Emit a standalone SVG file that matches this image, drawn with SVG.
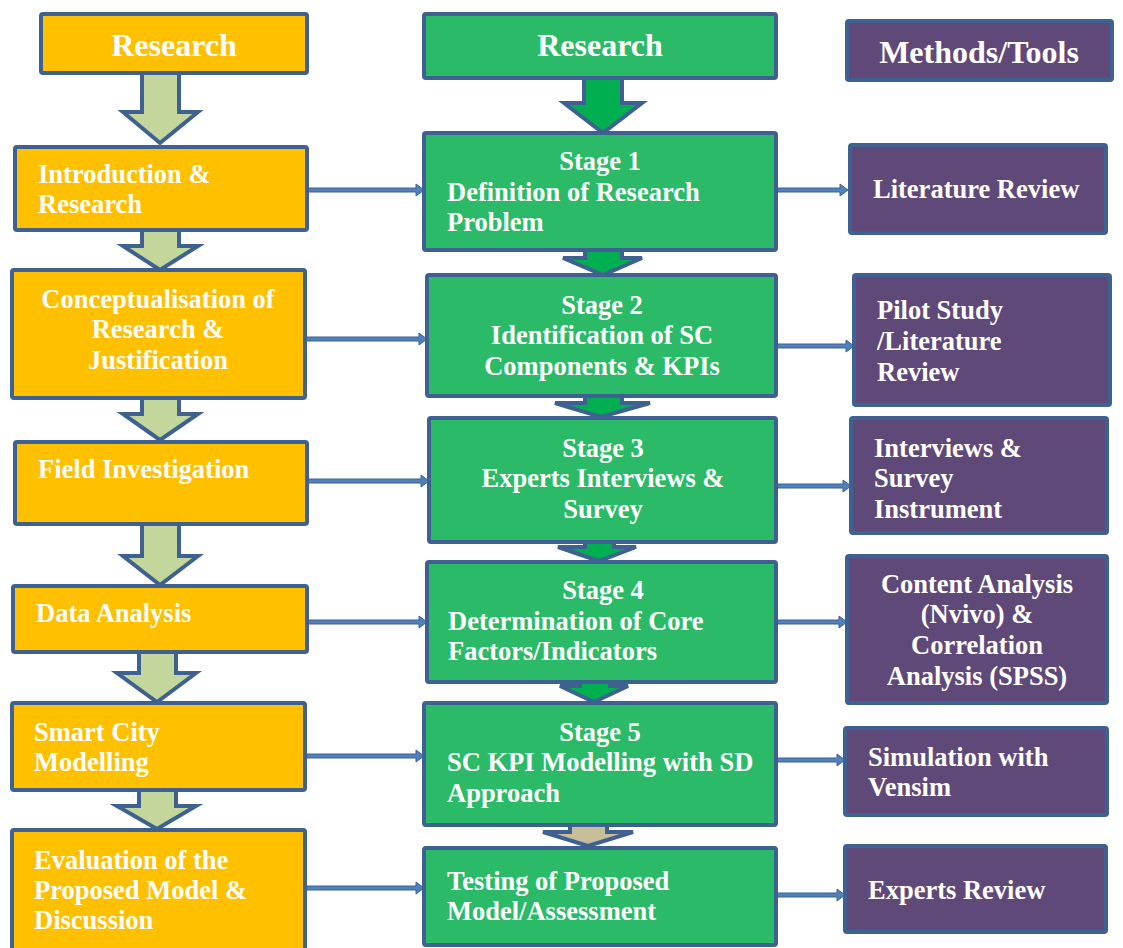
<svg xmlns="http://www.w3.org/2000/svg" width="1123" height="948" viewBox="0 0 1123 948">
  <style>
    .box { stroke: #3E6192; stroke-width: 4; }
    .orange { fill: #FFC000; }
    .green { fill: #2BBB68; }
    .purple { fill: #5F4979; }
    .t { font-family: "Liberation Serif", "Times New Roman", serif; font-weight: bold; fill: #FFFFFF; font-size: 26.5px; }
    .h { font-size: 32px; }
    .c { text-anchor: middle; }
    .blk { stroke: #3E6192; stroke-width: 4; stroke-linejoin: miter; }
    .lg { fill: #C3D69B; }
    .dg { fill: #00B050; }
    .tan { fill: #C8BF98; }
    .conn { fill: #4F81BD; stroke: #3E6192; stroke-width: 1; }
  </style>

  <!-- block arrows (drawn first so boxes overlap their ends) -->
  <g id="flow-arrows">
    <!-- left column -->
    <path class="blk lg" d="M142,73 H179 V112 H198 L160,143 L123,112 H142 Z"/>
    <path class="blk lg" d="M142,230 H179 V246 H198 L160,270 L123,246 H142 Z"/>
    <path class="blk lg" d="M142,398 H179 V414 H198 L160,440 L123,414 H142 Z"/>
    <path class="blk lg" d="M142,524 H179 V556 H198 L160,585 L123,556 H142 Z"/>
    <path class="blk lg" d="M139,652 H176 V673 H196 L157,702 L117,673 H139 Z"/>
    <path class="blk lg" d="M139,790 H176 V806 H196 L157,829 L117,806 H139 Z"/>
    <!-- middle column -->
    <path class="blk dg" d="M584,78 H622 V103 H642 L603,133 L564,103 H584 Z"/>
    <path class="blk dg" d="M585,250 H622 V258 H642 L603,275 L563,258 H585 Z"/>
    <path class="blk dg" d="M585,396 H622 V403 H650 L601,417 L555,403 H585 Z"/>
    <path class="blk dg" d="M585,542 H614 V547 H636 L599,561 L558,547 H585 Z"/>
    <path class="blk dg" d="M580,682 H610 V686 H628 L594,702 L560,686 H580 Z"/>
    <path class="blk tan" d="M570,823 H607 V832 H633 L588,846 L543,832 H570 Z"/>
  </g>

  <!-- horizontal connectors -->
  <g id="connectors">
    <path class="conn" d="M307,188 H416 V184 L424,190 L416,196 V192 H307 Z"/>
    <path class="conn" d="M305,337 H419 V333 L427,339 L419,345 V341 H305 Z"/>
    <path class="conn" d="M307,479 H421 V475 L429,481 L421,487 V483 H307 Z"/>
    <path class="conn" d="M307,620 H419 V616 L427,622 L419,628 V624 H307 Z"/>
    <path class="conn" d="M305,754 H416 V750 L424,756 L416,762 V758 H305 Z"/>
    <path class="conn" d="M305,886 H416 V882 L424,888 L416,894 V890 H305 Z"/>

    <path class="conn" d="M776,188 H840 V184 L848,190 L840,196 V192 H776 Z"/>
    <path class="conn" d="M776,344 H846 V340 L854,346 L846,352 V348 H776 Z"/>
    <path class="conn" d="M776,484 H843 V480 L851,486 L843,492 V488 H776 Z"/>
    <path class="conn" d="M776,620 H839 V616 L847,622 L839,628 V624 H776 Z"/>
    <path class="conn" d="M776,758 H837 V754 L845,760 L837,766 V762 H776 Z"/>
    <path class="conn" d="M776,893 H837 V889 L845,895 L837,901 V897 H776 Z"/>
  </g>

  <!-- left column: research phases -->
  <g id="research-left">
    <rect class="box orange" x="41" y="14" width="266" height="59" rx="2"/>
    <text class="t h c" x="174" y="56">Research</text>
  </g>
  <g id="introduction">
    <rect class="box orange" x="15" y="147" width="292" height="83" rx="2"/>
    <text class="t" x="38" y="183">Introduction &amp;</text>
    <text class="t" x="38" y="213">Research</text>
  </g>
  <g id="conceptualisation">
    <rect class="box orange" x="12" y="270" width="293" height="128" rx="2"/>
    <text class="t c" x="158" y="308">Conceptualisation of</text>
    <text class="t c" x="158" y="338">Research &amp;</text>
    <text class="t c" x="158" y="369">Justification</text>
  </g>
  <g id="field-investigation">
    <rect class="box orange" x="15" y="442" width="292" height="82" rx="2"/>
    <text class="t" x="38" y="478">Field Investigation</text>
  </g>
  <g id="data-analysis">
    <rect class="box orange" x="13" y="586" width="294" height="66" rx="2"/>
    <text class="t" x="36" y="622">Data Analysis</text>
  </g>
  <g id="smart-city-modelling">
    <rect class="box orange" x="12" y="703" width="293" height="87" rx="2"/>
    <text class="t" x="34" y="741">Smart City</text>
    <text class="t" x="34" y="771">Modelling</text>
  </g>
  <g id="evaluation">
    <rect class="box orange" x="12" y="830" width="293" height="122" rx="2"/>
    <text class="t" x="34" y="869">Evaluation of the</text>
    <text class="t" x="34" y="899">Proposed Model &amp;</text>
    <text class="t" x="34" y="929">Discussion</text>
  </g>

  <!-- middle column: stages -->
  <g id="research-stages">
    <rect class="box green" x="424" y="14" width="352" height="64" rx="2"/>
    <text class="t h c" x="600" y="56">Research</text>
  </g>
  <g id="stage1">
    <rect class="box green" x="424" y="133" width="352" height="117" rx="2"/>
    <text class="t c" x="600" y="170">Stage 1</text>
    <text class="t" x="447" y="201">Definition of Research</text>
    <text class="t" x="447" y="231">Problem</text>
  </g>
  <g id="stage2">
    <rect class="box green" x="427" y="275" width="349" height="121" rx="2"/>
    <text class="t c" x="602" y="314">Stage 2</text>
    <text class="t c" x="602" y="344">Identification of SC</text>
    <text class="t c" x="602" y="375">Components &amp; KPIs</text>
  </g>
  <g id="stage3">
    <rect class="box green" x="429" y="418" width="347" height="124" rx="2"/>
    <text class="t c" x="603" y="457">Stage 3</text>
    <text class="t c" x="603" y="487">Experts Interviews &amp;</text>
    <text class="t c" x="603" y="518">Survey</text>
  </g>
  <g id="stage4">
    <rect class="box green" x="427" y="562" width="349" height="120" rx="2"/>
    <text class="t c" x="603" y="599">Stage 4</text>
    <text class="t" x="448" y="630">Determination of Core</text>
    <text class="t" x="448" y="660">Factors/Indicators</text>
  </g>
  <g id="stage5">
    <rect class="box green" x="424" y="703" width="352" height="122" rx="2"/>
    <text class="t c" x="600" y="741">Stage 5</text>
    <text class="t" x="447" y="771">SC KPI Modelling with SD</text>
    <text class="t" x="447" y="802">Approach</text>
  </g>
  <g id="testing">
    <rect class="box green" x="424" y="848" width="352" height="97" rx="2"/>
    <text class="t" x="447" y="890">Testing of Proposed</text>
    <text class="t" x="447" y="920">Model/Assessment</text>
  </g>

  <!-- right column: methods and tools -->
  <g id="methods-tools">
    <rect class="box purple" x="847" y="21" width="265" height="59" rx="2"/>
    <text class="t h c" x="979" y="63">Methods/Tools</text>
  </g>
  <g id="literature-review">
    <rect class="box purple" x="850" y="145" width="256" height="88" rx="2"/>
    <text class="t" x="873" y="198">Literature Review</text>
  </g>
  <g id="pilot-study">
    <rect class="box purple" x="854" y="275" width="256" height="130" rx="2"/>
    <text class="t" x="877" y="319">Pilot Study</text>
    <text class="t" x="877" y="350">/Literature</text>
    <text class="t" x="877" y="381">Review</text>
  </g>
  <g id="interviews-survey">
    <rect class="box purple" x="851" y="418" width="256" height="115" rx="2"/>
    <text class="t" x="874" y="457">Interviews &amp;</text>
    <text class="t" x="874" y="487">Survey</text>
    <text class="t" x="874" y="518">Instrument</text>
  </g>
  <g id="content-analysis">
    <rect class="box purple" x="847" y="556" width="260" height="147" rx="2"/>
    <text class="t c" x="977" y="593">Content Analysis</text>
    <text class="t c" x="977" y="623">(Nvivo) &amp;</text>
    <text class="t c" x="977" y="654">Correlation</text>
    <text class="t c" x="977" y="685">Analysis (SPSS)</text>
  </g>
  <g id="simulation">
    <rect class="box purple" x="845" y="728" width="262" height="87" rx="2"/>
    <text class="t" x="868" y="766">Simulation with</text>
    <text class="t" x="868" y="796">Vensim</text>
  </g>
  <g id="experts-review">
    <rect class="box purple" x="845" y="846" width="261" height="86" rx="2"/>
    <text class="t" x="868" y="899">Experts Review</text>
  </g>
</svg>
